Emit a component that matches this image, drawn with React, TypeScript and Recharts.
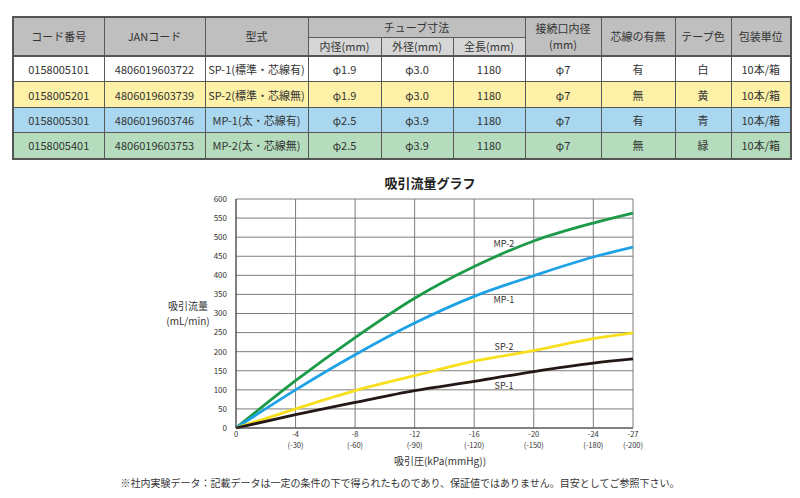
import { LineChart, Line, XAxis, YAxis, CartesianGrid, ReferenceDot } from 'recharts';

// 吸引圧 (mmHg magnitude) for each reading
const PRESSURE_MMHG = [0, 30, 60, 90, 120, 150, 180, 200];
const TICK_KPA = ['0', '-4', '-8', '-12', '-16', '-20', '-24', '-27'];
const TICK_MMHG = ['', '(-30)', '(-60)', '(-90)', '(-120)', '(-150)', '(-180)', '(-200)'];
const Y_TICKS = [0, 50, 100, 150, 200, 250, 300, 350, 400, 450, 500, 550, 600];

const MP2 = [0, 124, 237, 340, 423, 490, 537, 563];
const MP1 = [0, 100, 192, 275, 345, 399, 448, 474];
const SP2 = [0, 50, 98, 137, 175, 203, 234, 249];
const SP1 = [0, 35, 67, 98, 122, 148, 170, 181];

const SERIES = [
  { key: 'mp2', name: 'MP-2', values: MP2, color: '#1b9a48', labelY: 483 },
  { key: 'mp1', name: 'MP-1', values: MP1, color: '#1ea2e6', labelY: 336 },
  { key: 'sp2', name: 'SP-2', values: SP2, color: '#f8df1c', labelY: 213 },
  { key: 'sp1', name: 'SP-1', values: SP1, color: '#231815', labelY: 111 },
];
const LABEL_X = 135;

// table
const TABLE_ROWS = [
  ['0158005101', '4806019603722', 'SP-1(標準・芯線有)', 'φ1.9', 'φ3.0', '1180', 'φ7', '有', '白', '10本/箱'],
  ['0158005201', '4806019603739', 'SP-2(標準・芯線無)', 'φ1.9', 'φ3.0', '1180', 'φ7', '無', '黄', '10本/箱'],
  ['0158005301', '4806019603746', 'MP-1(太・芯線有)', 'φ2.5', 'φ3.9', '1180', 'φ7', '有', '青', '10本/箱'],
  ['0158005401', '4806019603753', 'MP-2(太・芯線無)', 'φ2.5', 'φ3.9', '1180', 'φ7', '無', '緑', '10本/箱'],
];
const ROW_COLORS = ['#ffffff', '#fdf0a7', '#a9d7ef', '#b5ddbd'];
const COL_WIDTHS = [91, 101, 103, 73, 72, 72, 76, 74, 56, 60];
const ROW_HEIGHTS = [26, 26, 25, 26];

const chartData = PRESSURE_MMHG.map((p, i) => {
  const row: Record<string, number> = { p };
  SERIES.forEach((s) => { row[s.key] = s.values[i]; });
  return row;
});

const FONT = '"Noto Sans CJK JP", "Noto Sans", sans-serif';
const border = '1px solid #5a5a5a';

// two-line tick: kPa above, mmHg in brackets below
const XTick = (props: any) => {
  const { x, y, payload } = props;
  const i = PRESSURE_MMHG.indexOf(payload.value);
  return (
    <text x={x} y={y + 1} textAnchor="middle" fontSize={7.5} fill="#333" fontFamily={FONT}>
      <tspan x={x}>{TICK_KPA[i]}</tspan>
      {TICK_MMHG[i] && <tspan x={x} dy={11}>{TICK_MMHG[i]}</tspan>}
    </text>
  );
};

function SpecTable() {
  const th: React.CSSProperties = {
    background: '#bfbfbf', border, fontWeight: 'normal', color: '#333', fontSize: 11, padding: 0, textAlign: 'center',
  };
  const sub: React.CSSProperties = { ...th, background: '#d6d6d6', height: 17 };
  return (
    <table style={{
      position: 'absolute', left: 12, top: 16, borderCollapse: 'collapse', tableLayout: 'fixed',
      fontFamily: FONT, border: '2px solid #555',
    }}>
      <colgroup>
        {COL_WIDTHS.map((w, i) => <col key={i} style={{ width: w }} />)}
      </colgroup>
      <thead>
        <tr style={{ height: 20 }}>
          <th rowSpan={2} style={th}>コード番号</th>
          <th rowSpan={2} style={th}>JANコード</th>
          <th rowSpan={2} style={th}>型式</th>
          <th colSpan={3} style={th}>チューブ寸法</th>
          <th rowSpan={2} style={{ ...th, lineHeight: '16px' }}>接続口内径<br />(mm)</th>
          <th rowSpan={2} style={th}>芯線の有無</th>
          <th rowSpan={2} style={th}>テープ色</th>
          <th rowSpan={2} style={th}>包装単位</th>
        </tr>
        <tr>
          <th style={sub}>内径(mm)</th>
          <th style={sub}>外径(mm)</th>
          <th style={sub}>全長(mm)</th>
        </tr>
      </thead>
      <tbody>
        {TABLE_ROWS.map((r, ri) => (
          <tr key={ri} style={{ height: ROW_HEIGHTS[ri], background: ROW_COLORS[ri] }}>
            {r.map((c, ci) => (
              <td key={ci} style={{
                border, borderTop: ri === 0 ? '2px solid #555' : border, fontSize: 11, color: '#333',
                textAlign: 'center', padding: 0, whiteSpace: 'nowrap', overflow: 'hidden',
              }}>{c}</td>
            ))}
          </tr>
        ))}
      </tbody>
    </table>
  );
}

export default function App() {
  return (
    <div style={{
      position: 'absolute', left: 0, top: 0, width: 800, height: 498, background: '#fff',
      fontFamily: FONT, overflow: 'hidden',
    }}>
      <SpecTable />

      <div style={{ position: 'absolute', left: 380, top: 173, width: 100, textAlign: 'center', fontSize: 13, fontWeight: 'bold', color: '#222' }}>
        吸引流量グラフ
      </div>

      <div style={{ position: 'absolute', left: 150, top: 299, width: 76, textAlign: 'center', fontSize: 10, color: '#333', lineHeight: '14.5px' }}>
        吸引流量<br />(mL/min)
      </div>

      <div style={{ position: 'absolute', left: 340, top: 454, width: 200, textAlign: 'center', fontSize: 10, lineHeight: '13px', color: '#333' }}>
        吸引圧(kPa(mmHg))
      </div>

      <div style={{ position: 'absolute', left: 0, top: 475, width: 800, textAlign: 'center', fontSize: 10, color: '#333' }}>
        ※社内実験データ：記載データは一定の条件の下で得られたものであり、保証値ではありません。目安としてご参照下さい。
      </div>

      <div style={{ position: 'absolute', left: 0, top: 160 }}>
        <LineChart width={800} height={338} data={chartData} margin={{ top: 39, right: 167, left: 206, bottom: 40 }}>
          <CartesianGrid stroke="#7d7d7d" strokeWidth={1} />
          <XAxis
            dataKey="p" type="number" domain={[0, 200]} ticks={PRESSURE_MMHG} interval={0}
            tick={<XTick />} tickLine={false} axisLine={{ stroke: '#444' }} height={30}
          />
          <YAxis
            type="number" domain={[0, 600]} ticks={Y_TICKS} interval={0} width={30}
            tick={{ fontSize: 8, fill: '#333', fontFamily: FONT }} tickLine={false} axisLine={{ stroke: '#444' }} tickMargin={3}
          />
          {SERIES.map((s) => (
            <Line key={s.key} dataKey={s.key} name={s.name} type="monotone" stroke={s.color}
              strokeWidth={2.8} dot={false} isAnimationActive={false} />
          ))}
          {SERIES.map((s) => (
            <ReferenceDot key={'l' + s.key} x={LABEL_X} y={s.labelY} r={0} fill="none" stroke="none"
              label={{ value: s.name, position: 'center', fontSize: 9, fill: '#333', fontFamily: FONT }} />
          ))}
        </LineChart>
      </div>
    </div>
  );
}
